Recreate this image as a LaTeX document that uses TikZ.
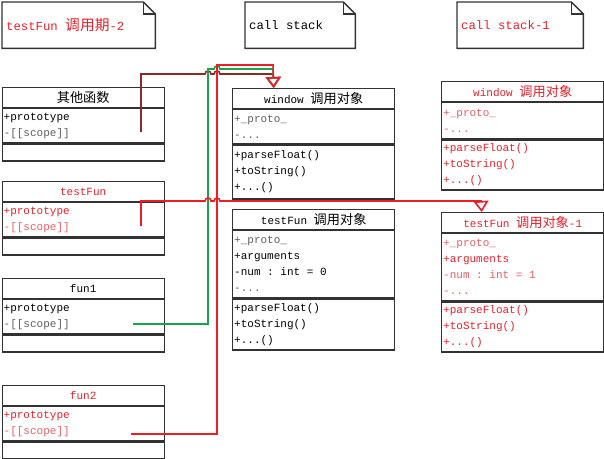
\documentclass[tikz,border=0pt]{standalone}
\usepackage{fontspec}
\setmainfont{Liberation Mono}
\newfontfamily\cjk[Scale=1.2]{Noto Sans CJK SC}
\usepackage{xcolor}
\usetikzlibrary{arrows.meta, positioning}
\definecolor{umlred}{RGB}{226,34,44}
\definecolor{umlpink}{RGB}{228,96,100}
\definecolor{umlgray}{RGB}{95,95,95}
\definecolor{boxline}{RGB}{50,50,50}
\definecolor{linkred}{RGB}{238,28,36}
\definecolor{linkgreen}{RGB}{30,160,80}
\definecolor{linkbrown}{RGB}{140,42,42}
\newcommand{\zh}[1]{{\cjk #1}}
% a word space one character wide
\newcommand{\gap}{\kern0.6em}

\begin{document}
\begin{tikzpicture}[
        x=1pt, y=-1pt,
        % the boxes of the class diagram
        every node/.style={font=\fontsize{11}{16}\selectfont, inner sep=0pt},
        classtitle/.style={draw=boxline, line width=1.4pt, minimum width=162pt,
            minimum height=19.5pt, anchor=north west},
        classpart/.style={draw=boxline, line width=1.4pt, text width=159pt,
            inner xsep=1.5pt, minimum height=#1, align=left},
        notebox/.style={text width=#1, inner xsep=4pt, minimum height=46pt,
            align=left, anchor=north west, font=\fontsize{12.3}{15}\selectfont},
        noteline/.style={draw=boxline, line width=1.4pt},
        link/.style={line width=1.6pt},
        inherit/.style={-{Triangle[open, length=11pt, width=15pt]}}
    ]
    \useasboundingbox (0,0) rectangle (604,458);

    % notes
    \node[notebox=145pt, text=umlred] (n1) at (2,2) {testFun\gap\zh{调用期}-2};
    \node[notebox=102pt] (n2) at (245,2) {call\gap stack};
    \node[notebox=118pt, text=umlred] (n3) at (457,2) {call\gap stack-1};
    \foreach \n in {n1,n2,n3} {
        \draw[noteline] (\n.south west) -- (\n.north west)
            -- ([xshift=-12pt]\n.north east) -- ([yshift=-12pt]\n.north east)
            -- (\n.south east) -- cycle;
        \draw[noteline] ([xshift=-12pt]\n.north east)
            -- ([xshift=-12pt, yshift=-12pt]\n.north east)
            -- ([yshift=-12pt]\n.north east);
    }

    % function objects
    \node[classtitle] (ot-t) at (1.5,87) {\zh{其他函数}};
    \node[classpart=34pt, below=0pt of ot-t] (ot-a)
        {+prototype\\\textcolor{umlgray}{-[[scope]]}};
    \node[classpart=17pt, below=0pt of ot-a] (ot-m) {};

    \node[classtitle, text=umlred] (tf-t) at (1.5,181) {testFun};
    \node[classpart=34pt, below=0pt of tf-t, text=umlred] (tf-a)
        {+prototype\\\textcolor{umlpink}{-[[scope]]}};
    \node[classpart=17pt, below=0pt of tf-a] (tf-m) {};

    \node[classtitle] (f1-t) at (1.5,278) {fun1};
    \node[classpart=34pt, below=0pt of f1-t] (f1-a)
        {+prototype\\\textcolor{umlgray}{-[[scope]]}};
    \node[classpart=17pt, below=0pt of f1-a] (f1-m) {};

    \node[classtitle, text=umlred] (f2-t) at (1.5,385) {fun2};
    \node[classpart=34pt, below=0pt of f2-t, text=umlred] (f2-a)
        {+prototype\\\textcolor{umlpink}{-[[scope]]}};
    \node[classpart=17pt, below=0pt of f2-a] (f2-m) {};

    % call stack
    \node[classtitle] (wn-t) at (232,88) {window\gap\zh{调用对象}};
    \node[classpart=34pt, below=0pt of wn-t] (wn-a)
        {\textcolor{umlgray}{+\_proto\_}\\\textcolor{umlgray}{-...}};
    \node[classpart=54pt, below=0pt of wn-a] (wn-m)
        {+parseFloat()\\+toString()\\+...()};

    \node[classtitle] (tm-t) at (232,209) {testFun\gap\zh{调用对象}};
    \node[classpart=67pt, below=0pt of tm-t] (tm-a)
        {\textcolor{umlgray}{+\_proto\_}\\+arguments\\-num\gap:\gap int\gap=\gap 0\\\textcolor{umlgray}{-...}};
    \node[classpart=51pt, below=0pt of tm-a] (tm-m)
        {+parseFloat()\\+toString()\\+...()};

    % call stack-1
    \node[classtitle, text=umlred] (wr-t) at (441,81) {window\gap\zh{调用对象}};
    \node[classpart=36pt, below=0pt of wr-t, text=umlpink] (wr-a)
        {+\_proto\_\\-...};
    \node[classpart=50pt, below=0pt of wr-a, text=umlred] (wr-m)
        {+parseFloat()\\+toString()\\+...()};

    \node[classtitle, text=umlred] (tr-t) at (441,212) {testFun\gap\zh{调用对象}-1};
    \node[classpart=67pt, below=0pt of tr-t, text=umlred] (tr-a)
        {\textcolor{umlpink}{+\_proto\_}\\+arguments\\\textcolor{umlpink}{-num\gap:\gap int\gap=\gap 1}\\\textcolor{umlpink}{-...}};
    \node[classpart=50pt, below=0pt of tr-a, text=umlred] (tr-m)
        {+parseFloat()\\+toString()\\+...()};

    % ends of the links
    \coordinate (ot-s) at (141,132);
    \coordinate (tf-s) at (141,226);
    \coordinate (f1-s) at (133,324);
    \coordinate (f2-s) at (131,434);
    \coordinate (wn-in) at ([xshift=-40pt]wn-t.north);
    \coordinate (tr-in) at ([xshift=-41pt]tr-t.north);

    % links, with hops where they cross
    \draw[link, linkbrown, inherit] (ot-s) -- (141,74)
        -- (205,74) .. controls (205,70) and (211,70) .. (211,74)
        -- (214,74) .. controls (214,70) and (220,70) .. (220,74)
        -- (273,74) -- (wn-in);
    \draw[link, linkgreen, inherit] (f1-s) -- (208,324) -- (208,69)
        -- (214,69) .. controls (214,65) and (220,65) .. (220,69)
        -- (273,69) -- (wn-in);
    \draw[link, linkred, inherit] (f2-s) -- (217,434) -- (217,65)
        -- (273,65) -- (wn-in);
    \draw[link, linkred, inherit] (tf-s) -- (141,201)
        -- (205,201) .. controls (205,197) and (211,197) .. (211,201)
        -- (214,201) .. controls (214,197) and (220,197) .. (220,201)
        -- (481,201) -- (tr-in);
\end{tikzpicture}
\end{document}
